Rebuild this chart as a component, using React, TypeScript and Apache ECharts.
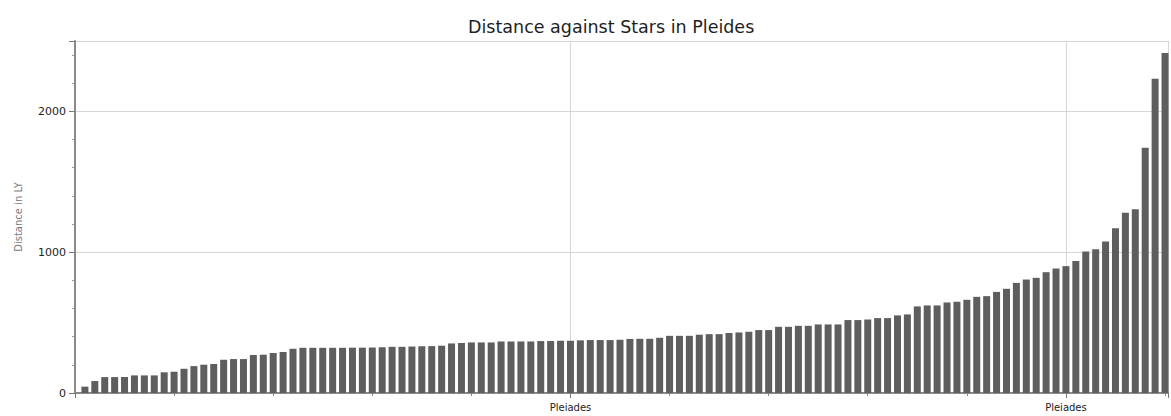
import React, { useEffect, useRef } from "react";
import * as echarts from "echarts";

const TITLE = "Distance against Stars in Pleides";
const Y_NAME = "Distance in LY";
const X_LABEL = "Pleiades";
const X_LABEL_POSITIONS = [50, 100];

// Star distances (light years), sorted ascending, one per bar (positions 1..110)
const distances = [
  45, 85, 113, 113, 113, 125, 125, 125, 147, 151,
  172, 191, 201, 206, 236, 241, 241, 270, 272, 284,
  291, 314, 321, 321, 321, 321, 321, 322, 322, 323,
  325, 328, 328, 330, 332, 333, 336, 352, 355, 359,
  359, 359, 366, 366, 366, 366, 369, 369, 371, 371,
  374, 376, 376, 376, 378, 384, 385, 385, 392, 406,
  406, 406, 414, 418, 418, 426, 430, 435, 447, 447,
  470, 470, 477, 477, 487, 487, 487, 518, 518, 522,
  532, 532, 551, 558, 615, 622, 622, 643, 648, 662,
  683, 688, 718, 740, 782, 806, 818, 858, 884, 901,
  938, 1005, 1021, 1076, 1170, 1281, 1305, 1742, 2232, 2414,
];

const X_MAX = 110.3;
const Y_MAX = 2500;

export default function App() {
  const ref = useRef<HTMLDivElement>(null);

  useEffect(() => {
    if (!ref.current) return;
    const chart = echarts.init(ref.current, null, { renderer: "svg" });
    const data = distances.map((v, i) => [i + 1, v]);
    const font = "DejaVu Sans";
    chart.setOption({
      animation: false,
      backgroundColor: "#ffffff",
      textStyle: { fontFamily: font },
      title: {
        text: TITLE,
        left: 463,
        top: 13,
        textStyle: { fontSize: 17.5, fontWeight: "normal", color: "#1e1e1e", fontFamily: font },
      },
      grid: { left: 75, right: 0, top: 41, bottom: 23, containLabel: false },
      xAxis: [
        {
          type: "value",
          min: 0,
          max: X_MAX,
          interval: 10,
          position: "bottom",
          axisLine: { show: true, lineStyle: { color: "#8a8a8a", width: 2 } },
          axisTick: { show: true, length: 3, lineStyle: { color: "#888" } },
          axisLabel: { show: false },
          splitLine: { show: false },
        },
        {
          type: "value",
          min: 0,
          max: X_MAX,
          interval: 50,
          position: "bottom",
          axisLine: { show: false },
          axisTick: { show: true, length: 5, lineStyle: { color: "#777" } },
          axisLabel: {
            show: true,
            margin: 9,
            fontSize: 10,
            color: "#222",
            fontFamily: font,
            formatter: (v: number) => (X_LABEL_POSITIONS.includes(v) ? X_LABEL : ""),
          },
          splitLine: { show: true, lineStyle: { color: "#d6d6d6", width: 1 } },
        },
      ],
      yAxis: [
        {
          type: "value",
          min: 0,
          max: Y_MAX,
          interval: 200,
          position: "left",
          name: Y_NAME,
          nameLocation: "middle",
          nameGap: 52,
          nameTextStyle: { fontSize: 10, color: "#7a7a7a", fontFamily: font },
          axisLine: { show: true, lineStyle: { color: "#8a8a8a", width: 2 } },
          axisTick: { show: true, length: 3, lineStyle: { color: "#999" } },
          axisLabel: { show: false },
          splitLine: { show: false },
        },
        {
          type: "value",
          min: 0,
          max: Y_MAX,
          interval: 1000,
          position: "left",
          axisLine: { show: false },
          axisTick: { show: true, length: 6, lineStyle: { color: "#777" } },
          axisLabel: {
            show: true,
            margin: 9,
            fontSize: 11,
            color: "#222",
            fontFamily: font,
            formatter: (v: number) => (v % 1000 === 0 ? String(v) : ""),
          },
          splitLine: { show: true, lineStyle: { color: "#d6d6d6", width: 1 } },
        },
      ],
      series: [
        {
          type: "bar",
          xAxisIndex: 0,
          yAxisIndex: 0,
          data,
          barWidth: 7,
          itemStyle: { color: "#5e5e5e" },
        },
      ],
    });
    return () => chart.dispose();
  }, []);

  return (
    <div
      ref={ref}
      style={{ position: "absolute", left: 0, top: 0, width: 1171, height: 416 }}
    />
  );
}
